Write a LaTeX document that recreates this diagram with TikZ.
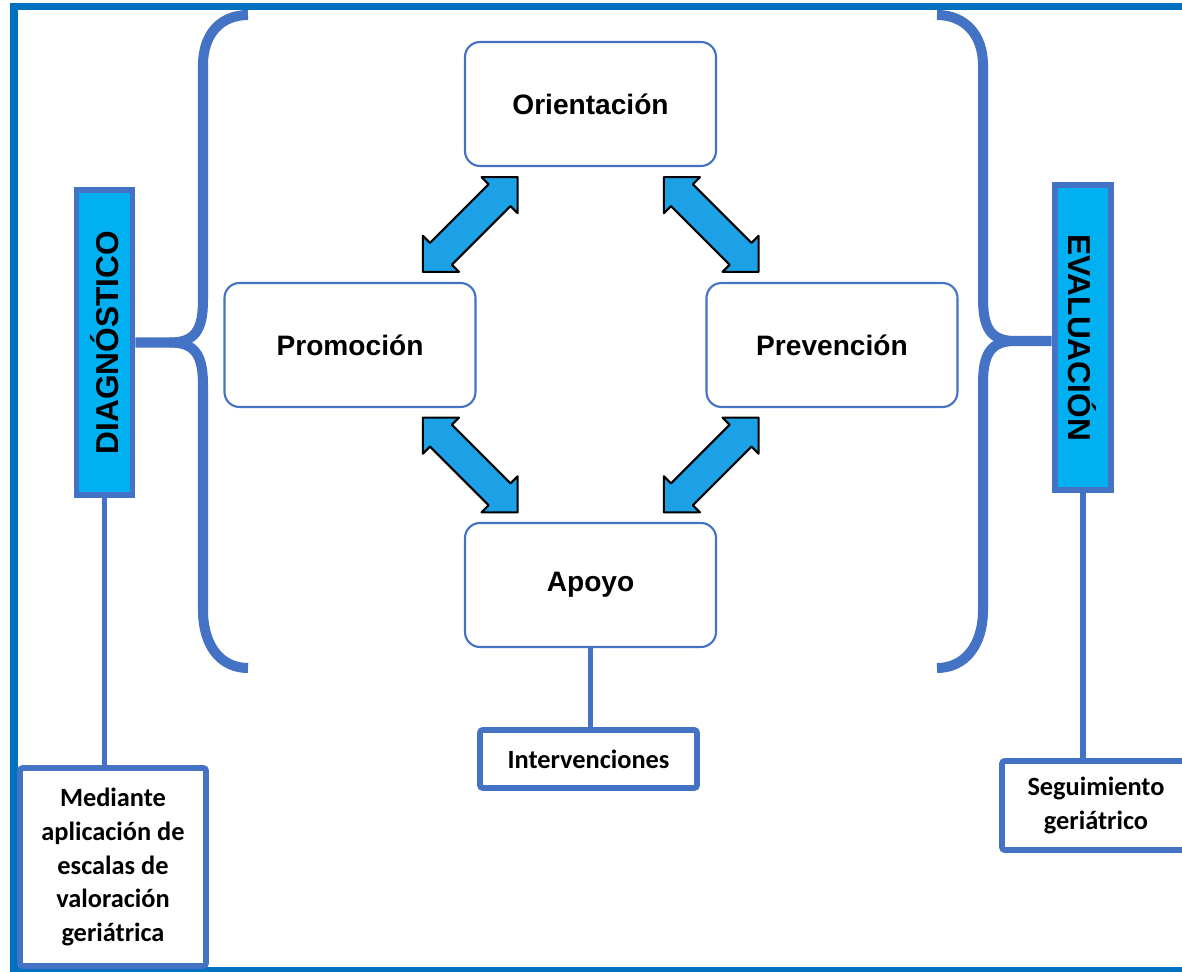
\documentclass[tikz,border=0pt]{standalone}
\usepackage{fontspec}
\setmainfont{Liberation Sans}
\newfontfamily\calibri{Carlito}
\usetikzlibrary{calc}
\definecolor{frameblue}{HTML}{0070C0}
\definecolor{bracecol}{HTML}{4472C4}
\definecolor{labelfill}{HTML}{00B0F0}
\definecolor{arrowblue}{HTML}{1CA0E6}

\tikzset{
  mainbox/.style={draw=bracecol, line width=1.2pt, rounded corners=0.3cm, minimum width=5.02cm, minimum height=2.48cm, font=\fontsize{16}{19}\selectfont\bfseries},
  sidebox/.style={draw=bracecol, line width=3.4pt, fill=labelfill, minimum width=1.12cm, minimum height=6.1cm, inner sep=0pt, font=\fontsize{18}{21}\selectfont\bfseries},
  notebox/.style={draw=bracecol, line width=3.2pt, fill=white, rounded corners=1.5pt, align=center, inner sep=0pt, font=\calibri\fontsize{15}{19.3}\selectfont\bfseries},
  brace/.style={draw=bracecol, line width=5.7pt},
  link/.style={draw=bracecol, line width=3.4pt},
  dblarrow/.pic={
    \filldraw[fill=arrowblue, draw=black, line width=1.2pt, line join=round]
      (-1.34,0) -- (-0.83,0.51) -- (-0.83,0.31) -- (0.83,0.31) -- (0.83,0.51) -- (1.34,0)
      -- (0.83,-0.51) -- (0.83,-0.31) -- (-0.83,-0.31) -- (-0.83,-0.51) -- cycle;
  }
}

\begin{document}
\begin{tikzpicture}
\useasboundingbox (0,0) rectangle (23.64,-19.44);
\clip (0,0) rectangle (23.64,-19.44);
%outer frame
\draw[frameblue, line width=4pt] (24,-0.13) -- (0.28,-0.13) -- (0.28,-19.41) -- (24,-19.41);

%main boxes
\node[mainbox] (orient) at (11.81,-2.08) {Orientación};
\node[mainbox] (promo) at (7.0,-6.9) {Promoción};
\node[mainbox] (prev) at (16.64,-6.9) {Prevención};
\node[mainbox] (apoyo) at (11.81,-11.7) {Apoyo};

%arrows between boxes
\pic[rotate=45] at ($(orient.south west)!0.5!(promo.north east)$) {dblarrow};
\pic[rotate=-45] at ($(orient.south east)!0.5!(prev.north west)$) {dblarrow};
\pic[rotate=-45] at ($(promo.south east)!0.5!(apoyo.north west)$) {dblarrow};
\pic[rotate=45] at ($(prev.south west)!0.5!(apoyo.north east)$) {dblarrow};

%side labels
\node[sidebox] (diag) at (2.09,-6.85) {\rotatebox{90}{DIAGNÓSTICO}};
\node[sidebox] (eval) at (21.65,-6.75) {\rotatebox{-90}{EVALUACIÓN}};

%left brace
\coordinate (lcusp) at (3.4,-6.85);
\draw[brace] (4.96,-0.30) .. controls (4.4,-0.30) and (4.06,-0.7) .. (4.06,-1.3) -- (4.06,-6.0)
  .. controls (4.06,-6.6) and (3.9,-6.85) .. (lcusp) -- (diag.east);
\draw[brace] (lcusp) .. controls (3.9,-6.85) and (4.06,-7.1) .. (4.06,-7.7) -- (4.06,-12.2)
  .. controls (4.06,-12.9) and (4.4,-13.36) .. (4.96,-13.36);
%right brace
\coordinate (rcusp) at (20.3,-6.82);
\draw[brace] (18.74,-0.30) .. controls (19.3,-0.30) and (19.66,-0.7) .. (19.66,-1.3) -- (19.66,-5.97)
  .. controls (19.66,-6.57) and (19.82,-6.82) .. (rcusp) -- (rcusp -| eval.west);
\draw[brace] (rcusp) .. controls (19.82,-6.82) and (19.66,-7.07) .. (19.66,-7.67) -- (19.66,-12.2)
  .. controls (19.66,-12.9) and (19.3,-13.36) .. (18.74,-13.36);

%notes
\node[notebox, minimum width=3.72cm, minimum height=3.96cm] (medi) at (2.26,-17.34)
  {Mediante\\aplicación de\\escalas de\\valoración\\geriátrica};
\node[notebox, minimum width=4.34cm, minimum height=1.16cm] (inter) at (11.77,-15.18) {Intervenciones};
\node[notebox, minimum width=3.76cm, minimum height=1.78cm] (segui) at (21.92,-16.11) {Seguimiento\\geriátrico};

%links
\draw[link] (diag.south) -- (diag.south |- medi.north);
\draw[link] (eval.south) -- (eval.south |- segui.north);
\draw[link] (apoyo.south) -- (apoyo.south |- inter.north);
\end{tikzpicture}
\end{document}
